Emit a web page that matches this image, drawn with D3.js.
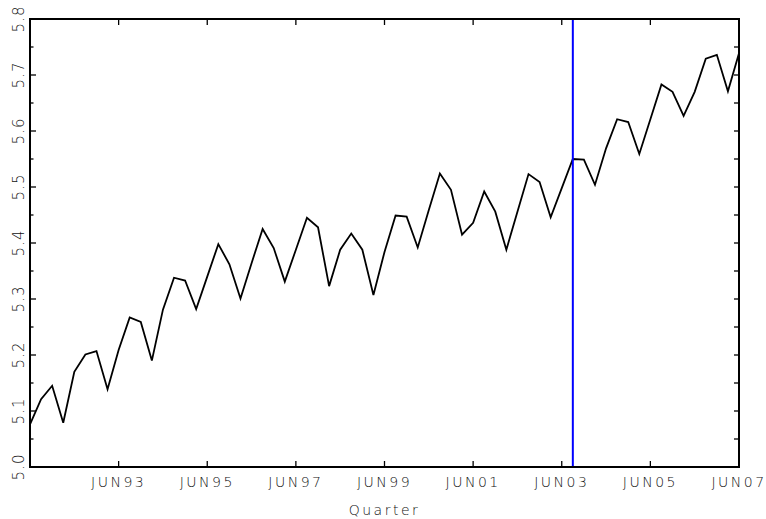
<!DOCTYPE html>
<html>
<head>
<meta charset="utf-8">
<script src="https://cdn.jsdelivr.net/npm/d3@7"></script>
<style>
  html, body { margin: 0; padding: 0; background: #fff; }
  svg { display: block; }
  .lbl { font-family: "DejaVu Sans", sans-serif; font-weight: 200; fill: #111; letter-spacing: 2.5px; }
</style>
</head>
<body>
<svg id="chart" width="766" height="519"></svg>
<script>
// Quarterly series, Jun 1991 – Jun 2007
const quarters = [
  "JUN91","SEP91","DEC91","MAR92","JUN92","SEP92","DEC92","MAR93",
  "JUN93","SEP93","DEC93","MAR94","JUN94","SEP94","DEC94","MAR95",
  "JUN95","SEP95","DEC95","MAR96","JUN96","SEP96","DEC96","MAR97",
  "JUN97","SEP97","DEC97","MAR98","JUN98","SEP98","DEC98","MAR99",
  "JUN99","SEP99","DEC99","MAR00","JUN00","SEP00","DEC00","MAR01",
  "JUN01","SEP01","DEC01","MAR02","JUN02","SEP02","DEC02","MAR03",
  "JUN03","SEP03","DEC03","MAR04","JUN04","SEP04","DEC04","MAR05",
  "JUN05","SEP05","DEC05","MAR06","JUN06","SEP06","DEC06","MAR07",
  "JUN07"
];
const values = [
  5.076, 5.121, 5.145, 5.079, 5.170, 5.201, 5.207, 5.139,
  5.209, 5.267, 5.259, 5.190, 5.281, 5.338, 5.333, 5.282,
  5.340, 5.398, 5.362, 5.301, 5.364, 5.425, 5.391, 5.331,
  5.388, 5.445, 5.428, 5.323, 5.388, 5.417, 5.388, 5.307,
  5.384, 5.449, 5.447, 5.392, 5.459, 5.524, 5.495, 5.415,
  5.436, 5.492, 5.456, 5.388, 5.456, 5.523, 5.509, 5.446,
  5.498, 5.550, 5.549, 5.504, 5.569, 5.621, 5.616, 5.559,
  5.621, 5.683, 5.670, 5.627, 5.670, 5.729, 5.736, 5.671,
  5.739
];
const xTickLabels = ["JUN93","JUN95","JUN97","JUN99","JUN01","JUN03","JUN05","JUN07"];
const yTickLabels = ["5.0","5.1","5.2","5.3","5.4","5.5","5.6","5.7","5.8"];
const yMinorTicks = [5.05,5.15,5.25,5.35,5.45,5.55,5.65,5.75];
const markerQuarter = "SEP03";
const xTitle = "Quarter";

const svg = d3.select("#chart");
const L = 30, R = 739, T = 19, B = 467;

const x = d3.scalePoint().domain(quarters).range([L, R]).padding(0);
const y = d3.scaleLinear().domain([5.0, 5.8]).range([B, T]);

// series line
svg.append("path")
  .datum(values)
  .attr("fill", "none")
  .attr("stroke", "#000")
  .attr("stroke-width", 1.8)
  .attr("stroke-linejoin", "miter")
  .attr("d", d3.line().x((d, i) => x(quarters[i])).y(d => y(d)));

// vertical marker
svg.append("line")
  .attr("x1", x(markerQuarter)).attr("x2", x(markerQuarter))
  .attr("y1", T).attr("y2", B)
  .attr("stroke", "#0000ff").attr("stroke-width", 2);

// ticks (inward) on all four sides
const tickG = svg.append("g").attr("stroke", "#000").attr("stroke-width", 1.3);
xTickLabels.slice(0, -1).forEach(q => {
  tickG.append("line").attr("x1", x(q)).attr("x2", x(q)).attr("y1", B).attr("y2", B - 6);
  tickG.append("line").attr("x1", x(q)).attr("x2", x(q)).attr("y1", T).attr("y2", T + 6);
});
const yMajor = yTickLabels.map(Number).filter(v => v > 5.0 && v < 5.8);
yMajor.forEach(v => {
  tickG.append("line").attr("x1", L).attr("x2", L + 6).attr("y1", y(v)).attr("y2", y(v));
  tickG.append("line").attr("x1", R).attr("x2", R - 5).attr("y1", y(v)).attr("y2", y(v));
});
yMinorTicks.forEach(v => {
  tickG.append("line").attr("x1", L).attr("x2", L + 3.5).attr("y1", y(v)).attr("y2", y(v));
  tickG.append("line").attr("x1", R).attr("x2", R - 5).attr("y1", y(v)).attr("y2", y(v));
});

// frame
svg.append("rect")
  .attr("x", L).attr("y", T).attr("width", R - L).attr("height", B - T)
  .attr("fill", "none").attr("stroke", "#000").attr("stroke-width", 2);

// x tick labels
svg.append("g").selectAll("text").data(xTickLabels).join("text")
  .attr("class", "lbl")
  .attr("x", d => x(d)).attr("y", 487)
  .attr("text-anchor", "middle")
  .attr("font-size", 14)
  .text(d => d);

// y tick labels, rotated
svg.append("g").selectAll("text").data(yTickLabels).join("text")
  .attr("class", "lbl")
  .attr("transform", d => `translate(23.5,${y(+d)}) rotate(-90)`)
  .attr("text-anchor", "middle")
  .attr("font-size", 15)
  .style("letter-spacing", "1px")
  .text(d => d);

// axis title
svg.append("text")
  .attr("class", "lbl")
  .attr("x", (L + R) / 2).attr("y", 515)
  .attr("text-anchor", "middle")
  .attr("font-size", 14)
  .text(xTitle);
</script>
</body>
</html>
